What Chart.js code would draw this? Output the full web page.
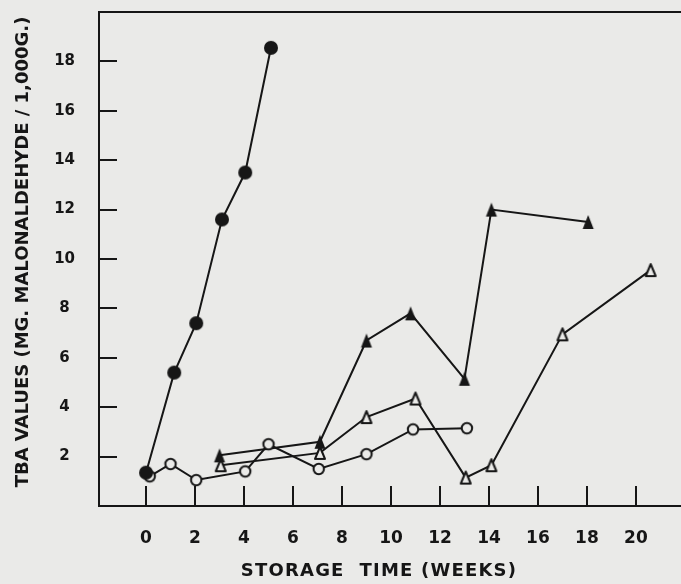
<!DOCTYPE html>
<html>
<head>
<meta charset="utf-8">
<script src="https://cdn.jsdelivr.net/npm/chart.js@4.4.1/dist/chart.umd.min.js"></script>
<style>
  html, body { margin: 0; padding: 0; background: #eaeae8; }
  #chart { display: block; }
</style>
</head>
<body>
<canvas id="chart" width="681" height="584"></canvas>
<script>
// values (weeks of storage, TBA value)
const filledCircleWeeks = [0, 1.15, 2.05, 3.1, 4.05, 5.1];
const filledCircleTba = [1.35, 5.4, 7.4, 11.6, 13.5, 18.55];

const openCircleWeeks = [0.15, 1.0, 2.05, 4.05, 5.0, 7.05, 9.0, 10.9, 13.1];
const openCircleTba = [1.2, 1.7, 1.05, 1.4, 2.5, 1.5, 2.1, 3.1, 3.15];

const filledTriangleWeeks = [3.0, 7.1, 9.0, 10.8, 13.0, 14.1, 18.05];
const filledTriangleTba = [2.05, 2.6, 6.7, 7.8, 5.15, 12.0, 11.5];

const openTriangleWeeks = [3.05, 7.1, 9.0, 11.0, 13.05, 14.1, 17.0, 20.6];
const openTriangleTba = [1.65, 2.15, 3.6, 4.35, 1.15, 1.65, 6.95, 9.55];

const xTickValues = [0, 2, 4, 6, 8, 10, 12, 14, 16, 18, 20];
const yTickValues = [2, 4, 6, 8, 10, 12, 14, 16, 18];

const xTitle = 'STORAGE  TIME (WEEKS)';
const yTitle = 'TBA VALUES (MG. MALONALDEHYDE / 1,000G.)';

const ink = '#161616';
const paper = '#eaeae8';
const fontFamily = '"DejaVu Sans", sans-serif';

function toPoints(xs, ys) {
    return xs.map((x, i) => ({ x: x, y: ys[i] }));
}

// little canvases used as point styles
function markerCanvas(shape, filled) {
    const c = document.createElement('canvas');
    c.width = 16;
    c.height = 16;
    const g = c.getContext('2d');
    g.lineWidth = 2;
    g.lineJoin = 'round';
    g.strokeStyle = ink;
    g.fillStyle = filled ? ink : paper;
    g.beginPath();
    if (shape === 'circle') {
        g.arc(8, 8, filled ? 7 : 5.2, 0, Math.PI * 2);
    } else if (filled) {
        g.moveTo(8, 1);
        g.lineTo(13.5, 15);
        g.lineTo(2.5, 15);
        g.closePath();
    } else {
        g.moveTo(8, 2);
        g.lineTo(13, 14);
        g.lineTo(3, 14);
        g.closePath();
    }
    g.fill();
    if (!filled) g.stroke();
    return c;
}

function series(xs, ys, marker) {
    return {
        data: toPoints(xs, ys),
        showLine: true,
        borderColor: ink,
        borderWidth: 2,
        tension: 0,
        pointStyle: marker,
        pointRadius: 7,
        pointHoverRadius: 7
    };
}

// axes keep no extra padding for their labels
function noPadding(scale) {
    scale.paddingTop = 0;
    scale.paddingBottom = 0;
    scale.paddingLeft = 0;
    scale.paddingRight = 0;
}

// inward tick marks and the two axis titles
const frameExtras = {
    id: 'frameExtras',
    beforeDatasetsDraw(chart) {
        const ctx = chart.ctx;
        const area = chart.chartArea;
        const xs = chart.scales.x;
        const ys = chart.scales.y;
        ctx.save();
        ctx.strokeStyle = ink;
        ctx.lineWidth = 2;
        ctx.beginPath();
        xTickValues.forEach(v => {
            const px = Math.round(xs.getPixelForValue(v));
            ctx.moveTo(px, area.bottom);
            ctx.lineTo(px, area.bottom - 20);
        });
        yTickValues.forEach(v => {
            const py = Math.round(ys.getPixelForValue(v));
            ctx.moveTo(area.left, py);
            ctx.lineTo(area.left + 18, py);
        });
        ctx.stroke();
        ctx.restore();
    },
    afterDraw(chart) {
        const ctx = chart.ctx;
        ctx.save();
        ctx.fillStyle = ink;
        ctx.textAlign = 'center';
        ctx.textBaseline = 'middle';
        ctx.font = 'bold 18px ' + fontFamily;
        ctx.letterSpacing = '1.2px';
        ctx.fillText(xTitle, 379, 571);
        ctx.letterSpacing = '0px';
        ctx.translate(23, 252);
        ctx.rotate(-Math.PI / 2);
        ctx.font = 'bold 18px ' + fontFamily;
        ctx.fillText(yTitle, 0, 0);
        ctx.restore();
    }
};

new Chart(document.getElementById('chart'), {
    type: 'scatter',
    data: {
        datasets: [
            series(filledCircleWeeks, filledCircleTba, markerCanvas('circle', true)),
            series(openCircleWeeks, openCircleTba, markerCanvas('circle', false)),
            series(filledTriangleWeeks, filledTriangleTba, markerCanvas('triangle', true)),
            series(openTriangleWeeks, openTriangleTba, markerCanvas('triangle', false))
        ]
    },
    options: {
        responsive: false,
        animation: false,
        events: [],
        layout: { autoPadding: false, padding: { top: 12, right: 0, bottom: 0, left: 0 } },
        plugins: {
            legend: { display: false },
            tooltip: { enabled: false }
        },
        scales: {
            x: {
                type: 'linear',
                position: 'bottom',
                min: -1.92,
                max: 21.84,
                afterBuildTicks: scale => { scale.ticks = xTickValues.map(v => ({ value: v })); },
                afterFit: scale => { scale.height = 78; noPadding(scale); },
                grid: { display: true, drawOnChartArea: false, drawTicks: false },
                border: { display: true, color: ink, width: 2 },
                ticks: {
                    color: ink,
                    padding: 22,
                    maxRotation: 0,
                    font: { family: fontFamily, size: 17, weight: 'bold' }
                }
            },
            xTop: {
                type: 'linear',
                position: 'top',
                min: 0,
                max: 1,
                afterFit: scale => { scale.height = 0; noPadding(scale); },
                grid: { display: true, drawOnChartArea: false, drawTicks: false },
                border: { display: true, color: ink, width: 2 },
                ticks: { display: false }
            },
            y: {
                type: 'linear',
                position: 'left',
                min: 0,
                max: 20,
                afterBuildTicks: scale => { scale.ticks = yTickValues.map(v => ({ value: v })); },
                afterFit: scale => { scale.width = 99; noPadding(scale); },
                grid: { display: true, drawOnChartArea: false, drawTicks: false },
                border: { display: true, color: ink, width: 2 },
                ticks: {
                    color: ink,
                    padding: 24,
                    crossAlign: 'center',
                    font: { family: fontFamily, size: 15, weight: 'bold' }
                }
            }
        }
    },
    plugins: [frameExtras]
});
</script>
</body>
</html>
